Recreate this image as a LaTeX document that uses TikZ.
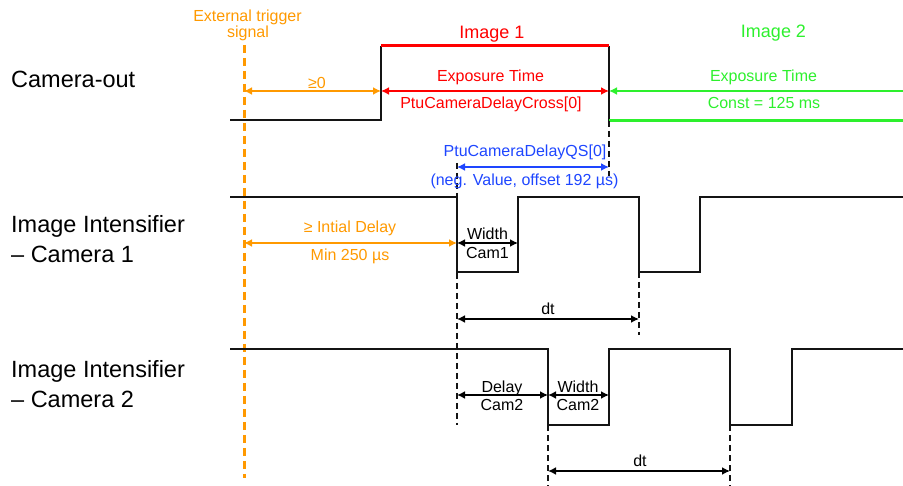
\documentclass[tikz,border=0pt]{standalone}
\usepackage{fontspec}
\setmainfont{Liberation Sans}
\usetikzlibrary{arrows.meta}
\definecolor{trigorange}{RGB}{255,153,0}
\definecolor{imgred}{RGB}{255,0,0}
\definecolor{imggreen}{RGB}{45,240,45}
\definecolor{qsblue}{RGB}{30,70,255}
\definecolor{sigblack}{RGB}{20,20,20}
\begin{document}
\begin{tikzpicture}[x=1pt,y=-1pt,
  sig/.style={line width=2pt, draw=sigblack, line join=miter},
  thick sig/.style={line width=3pt},
  guide/.style={line width=2pt, draw=sigblack, dash pattern=on 6pt off 4pt},
  trigline/.style={line width=3pt, draw=trigorange, dash pattern=on 8pt off 5pt},
  dim/.style={line width=2pt, {Latex[length=8pt,width=8pt]}-{Latex[length=8pt,width=8pt]}},
  ldim/.style={line width=2pt, {Latex[length=8pt,width=8pt]}-},
  lbl/.style={font=\fontsize{16}{18}\selectfont, anchor=base, inner sep=0pt},
  title/.style={font=\fontsize{18}{20}\selectfont, anchor=base, inner sep=0pt},
  big/.style={font=\fontsize{23.5}{28}\selectfont, anchor=base west, inner sep=0pt}]
\useasboundingbox (0,0) rectangle (903,486);

% ---------- row labels ----------
\node[big] (lcam) at (11,88) {Camera-out};
\node[big] (li1a) at (11,233) {Image Intensifier};
\node[big] (li1b) at (11,263) {\textendash{} Camera 1};
\node[big] (li2a) at (11,378) {Image Intensifier};
\node[big] (li2b) at (11,408) {\textendash{} Camera 2};

% ---------- external trigger ----------
\node[lbl, text=trigorange] (trig1) at (247.5,21.5) {External trigger};
\node[lbl, text=trigorange] (trig2) at (248,37.5) {signal};
\coordinate (trigT) at (244,45);
\coordinate (trigB) at (244,478);
\draw[trigline] (trigT) -- (trigB);

% ---------- camera-out waveform ----------
\coordinate (co0) at (230,120);
\coordinate (co1) at (381,120);
\coordinate (co2) at (381,46);
\coordinate (co3) at (609,46);
\coordinate (co4) at (609,121);
\coordinate (co5) at (903,121);
\draw[sig] (co0) -- (co1) -- (co2);
\draw[sig] (co3) -- (co4);
\draw[thick sig, imgred] (co2) -- (co3);
\draw[thick sig, imggreen] (co4) -- (co5);

% ---------- intensifier camera 1 waveform ----------
\draw[sig] (230,197) -- (457,197) -- (457,272) -- (518,272) -- (518,197)
  -- (639,197) -- (639,272) -- (700,272) -- (700,197) -- (903,197);

% ---------- intensifier camera 2 waveform ----------
\draw[sig] (230,349) -- (548,349) -- (548,425) -- (609,425) -- (609,349)
  -- (730,349) -- (730,425) -- (792,425) -- (792,349) -- (903,349);

% ---------- dashed reference lines ----------
\coordinate (g609a) at (609,121);  \coordinate (g609b) at (609,176);
\coordinate (g457a) at (457,163);  \coordinate (g457b) at (457,425);
\coordinate (g639a) at (639,272);  \coordinate (g639b) at (639,335);
\coordinate (g548a) at (548,425);  \coordinate (g548b) at (548,486);
\coordinate (g730a) at (730,425);  \coordinate (g730b) at (730,486);
\draw[guide] (g609a) -- (g609b);
\draw[guide] (g457a) -- (g457b);
\draw[guide] (g639a) -- (g639b);
\draw[guide] (g548a) -- (g548b);
\draw[guide] (g730a) -- (g730b);

% ---------- camera-out dimensions ----------
\coordinate (e0) at (244,91);
\coordinate (e1) at (381,91);
\coordinate (e2) at (609,91);
\coordinate (e3) at (903,91);
\draw[dim, trigorange] (e0) -- (e1);
\draw[dim, imgred] (e1) -- (e2);
\draw[ldim, imggreen] (e2) -- (e3);
\node[lbl, text=trigorange] (ge0) at (317,89) {≥0};
\node[title, text=imgred] (im1) at (492,39) {Image 1};
\node[lbl, text=imgred] (ex1) at (490.5,82) {Exposure Time};
\node[lbl, text=imgred] (dc1) at (491,109) {PtuCameraDelayCross[0]};
\node[title, text=imggreen] (im2) at (773.5,38) {Image 2};
\node[lbl, text=imggreen] (ex2) at (763.5,82) {Exposure Time};
\node[lbl, text=imggreen] (cst) at (764,109) {Const = 125 ms};

% ---------- QS delay ----------
\coordinate (q0) at (457,167);
\coordinate (q1) at (609,167);
\draw[dim, qsblue] (q0) -- (q1);
\node[lbl, text=qsblue] (qs1) at (525,157) {PtuCameraDelayQS[0]};
\node[lbl, text=qsblue] (qs2) at (524.5,186) {(neg. Value, offset 192 µs)};

% ---------- camera 1 dimensions ----------
\coordinate (d0) at (244,243);
\coordinate (d1) at (457,243);
\coordinate (d2) at (518,243);
\draw[dim, trigorange] (d0) -- (d1);
\draw[dim, black] (d1) -- (d2);
\node[lbl, text=trigorange] (id1) at (350,233) {≥ Intial Delay};
\node[lbl, text=trigorange] (id2) at (350,261) {Min 250 µs};
\node[lbl] (w1a) at (487.5,240) {Width};
\node[lbl] (w1b) at (487.5,259) {Cam1};

\coordinate (t0) at (457,319);
\coordinate (t1) at (639,319);
\draw[dim, black] (t0) -- (t1);
\node[lbl] (dt1) at (548,315) {dt};

% ---------- camera 2 dimensions ----------
\coordinate (k0) at (457,395);
\coordinate (k1) at (548,395);
\coordinate (k2) at (609,395);
\draw[dim, black] (k0) -- (k1);
\draw[dim, black] (k1) -- (k2);
\node[lbl] (dl2a) at (502,393) {Delay};
\node[lbl] (dl2b) at (502,410) {Cam2};
\node[lbl] (w2a) at (578,393) {Width};
\node[lbl] (w2b) at (578,410) {Cam2};

\coordinate (u0) at (548,471);
\coordinate (u1) at (730,471);
\draw[dim, black] (u0) -- (u1);
\node[lbl] (dt2) at (640,467) {dt};
\end{tikzpicture}
\end{document}
